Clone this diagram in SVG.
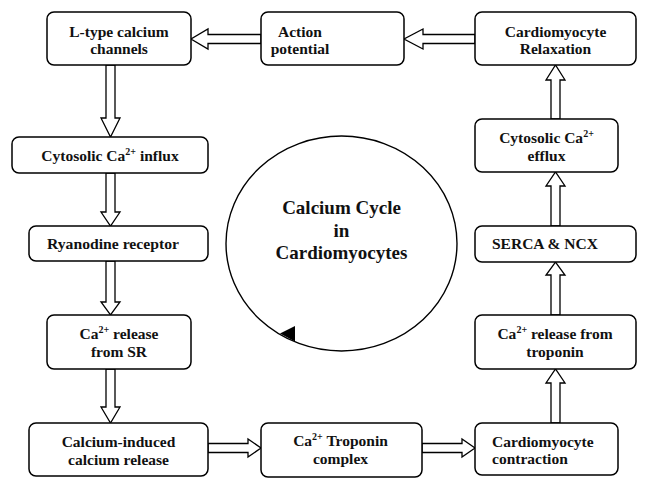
<svg xmlns="http://www.w3.org/2000/svg" width="648" height="488" viewBox="0 0 648 488">
<style>
.box{fill:#fff;stroke:#000;stroke-width:1.5}
.t{font-family:'Liberation Serif','Times New Roman',Tinos,'DejaVu Serif',serif;font-weight:bold;font-size:15.5px;fill:#111}
.c{text-anchor:middle}
.arr{fill:#fff;stroke:#000;stroke-width:1.3;stroke-linejoin:miter}
.big{font-size:19px}
</style>
<rect width="648" height="488" fill="#fff"/>
<g id="cycle">
<ellipse cx="341.5" cy="243.5" rx="115.5" ry="107.5" fill="none" stroke="#000" stroke-width="1.4"/>
<polygon points="280,333.5 295,326 295,341.5" fill="#000"/>
<text class="t c big" x="341.5" y="214">Calcium Cycle</text>
<text class="t c big" x="341.5" y="237">in</text>
<text class="t c big" x="341.5" y="259">Cardiomyocytes</text>
</g>
<g id="connectors">
<polygon class="arr" points="106,65 115,65 115,118 120,118 110.5,137 101,118 106,118"/>
<polygon class="arr" points="106,173 115,173 115,212 120,212 110.5,226 101,212 106,212"/>
<polygon class="arr" points="106,261 115,261 115,302 120,302 110.5,315 101,302 106,302"/>
<polygon class="arr" points="106,369 115,369 115,407 120,407 110.5,423 101,407 106,407"/>
<polygon class="arr" points="208,443.5 248,443.5 248,439 261,448 248,457 248,452.5 208,452.5"/>
<polygon class="arr" points="422,443.5 462,443.5 462,439 475,448 462,457 462,452.5 422,452.5"/>
<polygon class="arr" points="551,423 551,383 546,383 555.5,369 565,383 560,383 560,423"/>
<polygon class="arr" points="551,315 551,275 546,275 555.5,262 565,275 560,275 560,315"/>
<polygon class="arr" points="551,226 551,186 546,186 555.5,172 565,186 560,186 560,226"/>
<polygon class="arr" points="551,119 551,80 546,80 555.5,65 565,80 560,80 560,119"/>
<polygon class="arr" points="475,34.5 423,34.5 423,29 404,39 423,49 423,43.5 475,43.5"/>
<polygon class="arr" points="261,34.5 208,34.5 208,29 191,39 208,49 208,43.5 261,43.5"/>
</g>
<g id="ltype">
<rect class="box" x="47" y="12" width="144" height="53" rx="7"/>
<text class="t c" x="119" y="37">L-type calcium</text>
<text class="t c" x="119" y="54">channels</text>
</g>
<g id="action">
<rect class="box" x="261" y="12" width="143" height="53" rx="7"/>
<text class="t c" x="300" y="37">Action</text>
<text class="t c" x="300" y="54">potential</text>
</g>
<g id="relaxation">
<rect class="box" x="475" y="12" width="161" height="53" rx="7"/>
<text class="t c" x="555.5" y="37">Cardiomyocyte</text>
<text class="t c" x="555.5" y="54">Relaxation</text>
</g>
<g id="influx">
<rect class="box" x="12" y="137" width="196" height="36" rx="7"/>
<text class="t c" x="110" y="161">Cytosolic Ca<tspan font-size="10" dy="-6">2+</tspan><tspan dy="6"> influx</tspan></text>
</g>
<g id="ryanodine">
<rect class="box" x="29" y="226" width="179" height="35" rx="7"/>
<text class="t c" x="113" y="249" textLength="132" lengthAdjust="spacingAndGlyphs">Ryanodine receptor</text>
</g>
<g id="releaseSR">
<rect class="box" x="47" y="315" width="144" height="54" rx="7"/>
<text class="t c" x="119" y="339">Ca<tspan font-size="10" dy="-6">2+</tspan><tspan dy="6"> release</tspan></text>
<text class="t c" x="119" y="357">from SR</text>
</g>
<g id="cicr">
<rect class="box" x="29" y="423" width="179" height="53" rx="7"/>
<text class="t c" x="118.5" y="447">Calcium-induced</text>
<text class="t c" x="118.5" y="465">calcium release</text>
</g>
<g id="troponinComplex">
<rect class="box" x="261" y="423" width="161" height="54" rx="7"/>
<text class="t c" x="340.5" y="446">Ca<tspan font-size="10" dy="-6">2+</tspan><tspan dy="6"> Troponin</tspan></text>
<text class="t c" x="340.5" y="464">complex</text>
</g>
<g id="contraction">
<rect class="box" x="475" y="423" width="143" height="52" rx="7"/>
<text class="t" x="492" y="447">Cardiomyocyte</text>
<text class="t" x="492" y="464">contraction</text>
</g>
<g id="releaseTroponin">
<rect class="box" x="475" y="315" width="161" height="54" rx="7"/>
<text class="t c" x="555" y="339">Ca<tspan font-size="10" dy="-6">2+</tspan><tspan dy="6"> release from</tspan></text>
<text class="t c" x="555" y="357">troponin</text>
</g>
<g id="serca">
<rect class="box" x="475" y="226" width="161" height="36" rx="7"/>
<text class="t" x="492" y="249">SERCA &amp; NCX</text>
</g>
<g id="efflux">
<rect class="box" x="475" y="119" width="143" height="53" rx="7"/>
<text class="t c" x="546.5" y="143">Cytosolic Ca<tspan font-size="10" dy="-6">2+</tspan></text>
<text class="t c" x="546.5" y="161">efflux</text>
</g>
</svg>
